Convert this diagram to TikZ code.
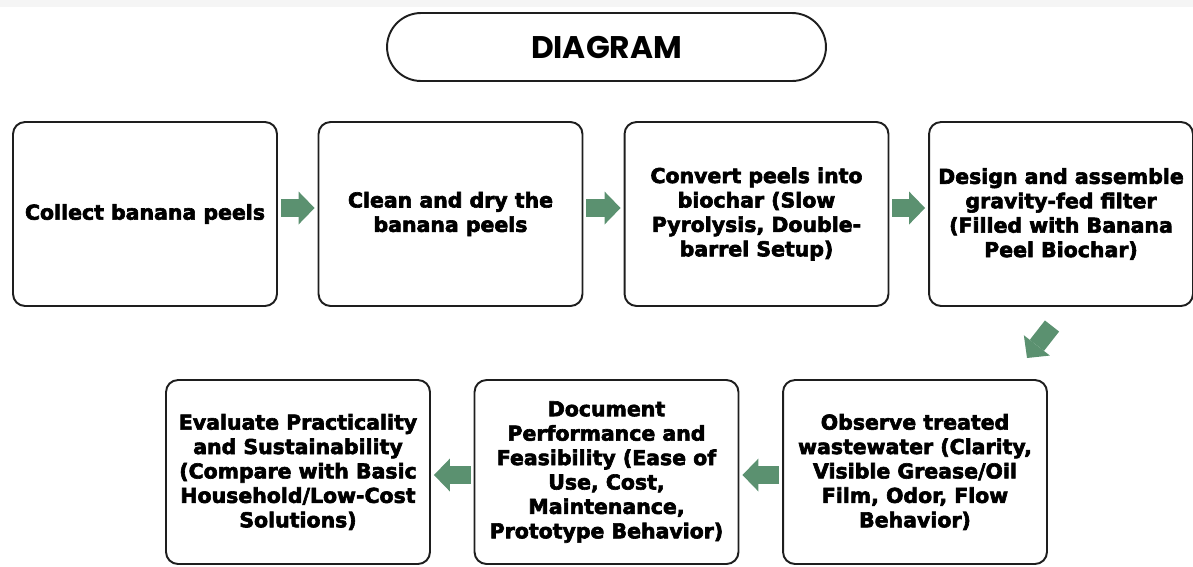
\documentclass[tikz,border=0pt]{standalone}
\usepackage{fontspec}
\setmainfont{DejaVu Sans}
\newfontfamily\boxfont{DejaVu Sans}[BoldFont={DejaVu Sans Bold}, BoldFeatures={FakeBold=3}]
\newfontfamily\titlefont{Poppins}
\usetikzlibrary{arrows.meta}
\definecolor{arrowgreen}{HTML}{5B9170}
\definecolor{edge}{HTML}{1E1E1E}
\begin{document}
\begin{tikzpicture}[x=0.02cm,y=-0.02cm,
  stepbox/.style={draw=edge, line width=1.1pt, rounded corners=0.24cm,
    minimum width=5.28cm, minimum height=3.68cm, align=center, inner sep=2pt,
    font=\boxfont\bfseries\fontsize{11.65pt}{13.9pt}\selectfont, text=black},
  titlebox/.style={draw=edge, line width=1.1pt, rounded corners=0.68cm,
    minimum width=8.78cm, minimum height=1.36cm,
    font=\titlefont\bfseries\fontsize{17.8pt}{20pt}\selectfont},
  fat/.style={draw=arrowgreen, line width=0.36cm,
    -{Triangle[length=0.32cm, width=0.66cm, line width=0pt]}}
]
\useasboundingbox (0,0) rectangle (1193,566);
\fill[gray!8] (0,0) rectangle (1193,7);
\node[titlebox] (title) at (606.5,47) {DIAGRAM};
\node[stepbox] (b1) at (145,214) {Collect banana peels};
\node[stepbox] (b2) at (450.5,214) {Clean and dry the\\banana peels};
\node[stepbox] (b3) at (756.5,214) {Convert peels into\\biochar (Slow\\Pyrolysis, Double-\\barrel Setup)};
\node[stepbox] (b4) at (1061,214) {Design and assemble\\gravity-fed filter\\(Filled with Banana\\Peel Biochar)};
\node[stepbox] (b5) at (915,472) {Observe treated\\wastewater (Clarity,\\Visible Grease/Oil\\Film, Odor, Flow\\Behavior)};
\node[stepbox] (b6) at (606.5,472) {Document\\Performance and\\Feasibility (Ease of\\Use, Cost,\\Maintenance,\\Prototype Behavior)};
\node[stepbox] (b7) at (298,472) {Evaluate Practicality\\and Sustainability\\(Compare with Basic\\Household/Low-Cost\\Solutions)};
\coordinate (d1) at (1052,326);
\coordinate (d2) at (1027,358);
\draw[fat, shorten <=0.06cm, shorten >=0.06cm] ([yshift=0.12cm]b1.east) -- ([yshift=0.12cm]b2.west);
\draw[fat, shorten <=0.06cm, shorten >=0.06cm] ([yshift=0.12cm]b2.east) -- ([yshift=0.12cm]b3.west);
\draw[fat, shorten <=0.06cm, shorten >=0.06cm] ([yshift=0.12cm]b3.east) -- ([yshift=0.12cm]b4.west);
\draw[fat] (d1) -- (d2);
\draw[fat, shorten <=0.06cm, shorten >=0.06cm] ([yshift=-0.06cm]b5.west) -- ([yshift=-0.06cm]b6.east);
\draw[fat, shorten <=0.06cm, shorten >=0.06cm] ([yshift=-0.06cm]b6.west) -- ([yshift=-0.06cm]b7.east);
\end{tikzpicture}
\end{document}
